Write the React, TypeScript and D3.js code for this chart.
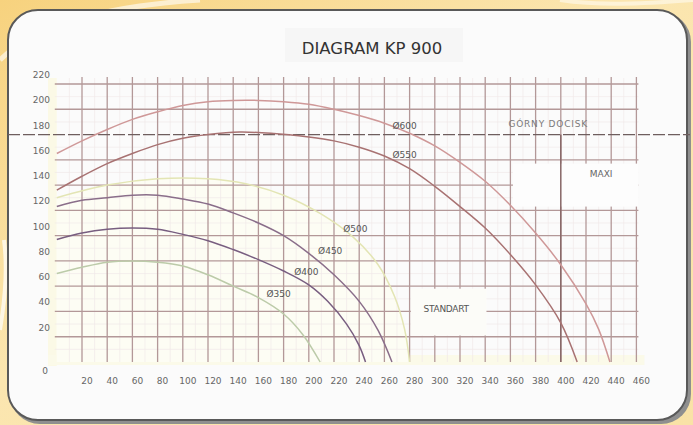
import * as d3 from 'd3';

// pump diagram KP 900: flow Q (m3/h) vs head H
const flowTicks = [20, 40, 60, 80, 100, 120, 140, 160, 180, 200, 220, 240, 260, 280, 300, 320, 340, 360, 380, 400, 420, 440, 460];
const headTicks = [20, 40, 60, 80, 100, 120, 140, 160, 180, 200, 220];

const d350 = [[0, 70], [20, 75], [40, 79], [60, 80], [80, 79], [100, 76], [120, 69], [140, 60], [160, 51], [180, 38], [195, 22], [209, 0]];
const d400 = [[0, 97], [20, 102], [40, 105], [60, 106], [80, 105], [100, 101], [120, 96], [140, 89], [160, 81], [180, 72], [200, 61], [215, 48], [230, 30], [240, 13], [245, 0]];
const d450 = [[0, 123], [20, 128], [40, 130], [60, 132], [80, 132], [100, 129], [120, 125], [140, 118], [160, 110], [180, 100], [200, 86], [220, 69], [240, 48], [255, 25], [266, 0]];
const d500 = [[0, 130], [40, 140], [80, 145], [120, 145], [150, 141], [180, 132], [210, 117], [235, 99], [255, 77], [268, 52], [276, 26], [280, 0]];
const d550 = [[0, 136], [20, 147], [40, 157], [60, 165], [80, 172], [100, 177], [120, 180], [145, 182], [170, 181], [200, 178], [220, 175], [240, 170], [260, 163], [280, 153], [300, 139], [320, 123], [340, 106], [360, 85], [380, 61], [400, 31], [413, 0]];
const d600 = [[0, 165], [20, 175], [40, 184], [60, 192], [80, 198], [100, 203], [120, 206], [140, 207], [160, 207], [180, 206], [200, 204], [220, 200], [240, 195], [260, 189], [280, 181], [300, 171], [320, 158], [340, 143], [360, 124], [380, 102], [400, 77], [420, 46], [430, 26], [439, 0]];

const seriesNames = ['Ø350', 'Ø400', 'Ø450', 'Ø500', 'Ø550', 'Ø600'];
const seriesData = [d350, d400, d450, d500, d550, d600];
// where each curve name sits, in chart units
const seriesLabelAt = [[176, 54], [198, 72], [217, 88], [237, 106], [276, 164], [276, 187]];

const pressLimit = 180; // GÓRNY DOCISK
const splitFlow = 400;
const maxiBox = [362, 123, 460, 157];
const standartBox = [281, 21, 341, 58];

const colors: Record<string, string> = {
  'Ø350': '#bccba9',
  'Ø400': '#785e80',
  'Ø450': '#8a6e8a',
  'Ø500': '#e3e5b4',
  'Ø550': '#a87272',
  'Ø600': '#cf9898',
};

const W = 693;
const H = 425;

export default function App() {
  const x = d3.scaleLinear().domain([0, 460]).range([56.8, 636.4]);
  const y = d3.scaleLinear().domain([0, 220]).range([362, 84]);

  const line = d3.line<number[]>()
    .x(d => x(d[0]))
    .y(d => y(d[1]))
    .curve(d3.curveCatmullRom.alpha(0.5));

  const area = d3.area<number[]>()
    .x(d => x(d[0]))
    .y0(y(0))
    .y1(d => y(d[1]))
    .curve(d3.curveCatmullRom.alpha(0.5));

  const minorX = d3.range(10, 460, 20);
  const minorY = d3.range(10, 220, 20);
  const gridColor = '#b39898';
  const font = '"DejaVu Sans", Verdana, sans-serif';

  return (
    <svg width={W} height={H} style={{ position: 'absolute', left: 0, top: 0 }}>
      <defs>
        <linearGradient id="bg" x1="0" y1="0" x2="1" y2="1">
          <stop offset="0%" stopColor="#f7d27e" />
          <stop offset="45%" stopColor="#fbe6b0" />
          <stop offset="100%" stopColor="#f9e2a6" />
        </linearGradient>
      </defs>
      <rect x={0} y={0} width={W} height={H} fill="url(#bg)" />
      <path d="M0,60 C40,20 120,5 200,0" stroke="#fff" strokeOpacity={0.6} strokeWidth={5} fill="none" />
      <path d="M0,330 C5,300 8,270 4,240" stroke="#fff" strokeOpacity={0.7} strokeWidth={4} fill="none" />
      <path d="M560,0 C600,6 640,4 693,0" stroke="#fff" strokeOpacity={0.5} strokeWidth={4} fill="none" />

      {/* panel */}
      <rect x={10} y={12} width={681} height={412} rx={30} fill="#8f8f8f" />
      <rect x={8} y={10} width={679} height={410} rx={30} fill="#fbfbfb" stroke="#595959" strokeWidth={2} />

      {/* title */}
      <rect x={285} y={28} width={178} height={34} fill="#f6f6f6" />
      <text x={372} y={54} textAnchor="middle" fontFamily={font} fontSize={16.5} fill="#333">DIAGRAM KP 900</text>

      {/* faint tinted strips and standard area */}
      <rect x={48} y={y(220) - 6} width={x(0) - 48} height={y(0) - y(220) + 10} fill="#fbf9e6" />
      <rect x={48} y={y(0) - 7} width={x(460) + 8 - 48} height={10} fill="#fbfae9" />
      <path d={area(d500) ?? ''} fill="#fdfdf4" />

      {/* minor grid */}
      {minorX.map(v => (
        <line key={'mx' + v} x1={x(v)} x2={x(v)} y1={y(220) - 6} y2={y(0)} stroke="#f1eaea" strokeWidth={0.7} />
      ))}
      {minorY.map(v => (
        <line key={'my' + v} x1={x(0) - 2} x2={x(460) + 2} y1={y(v)} y2={y(v)} stroke="#f1eaea" strokeWidth={0.7} />
      ))}

      {/* major grid */}
      {flowTicks.map(v => (
        <line key={'gx' + v} x1={x(v)} x2={x(v)} y1={y(220) - 7} y2={y(0)} stroke={gridColor} strokeWidth={1.3} />
      ))}
      {headTicks.filter(v => v !== pressLimit).map(v => (
        <line key={'gy' + v} x1={x(0) - 2} x2={x(460) + 2} y1={y(v)} y2={y(v)} stroke={gridColor} strokeWidth={1.3} />
      ))}

      {/* MAXI / STANDART boxes */}
      <rect x={x(maxiBox[0])} y={y(maxiBox[3])} width={x(maxiBox[2]) - x(maxiBox[0]) + 2} height={y(maxiBox[1]) - y(maxiBox[3])} fill="#fdfdfd" />
      <rect x={x(standartBox[0])} y={y(standartBox[3])} width={x(standartBox[2]) - x(standartBox[0])} height={y(standartBox[1]) - y(standartBox[3])} fill="#fcfcf8" />

      <line x1={x(splitFlow)} x2={x(splitFlow)} y1={y(pressLimit)} y2={y(0)} stroke="#876666" strokeWidth={1.5} />

      {/* pressure limit */}
      <line x1={8} x2={690} y1={y(pressLimit)} y2={y(pressLimit)} stroke="#6e5e5e" strokeWidth={1.2} strokeDasharray="12 3" />

      {/* curves */}
      {seriesData.map((d, i) => (
        <path key={seriesNames[i]} d={line(d) ?? ''} fill="none" stroke={colors[seriesNames[i]]} strokeWidth={1.5} />
      ))}

      {/* curve labels */}
      {seriesNames.map((n, i) => (
        <text key={'l' + n} x={x(seriesLabelAt[i][0])} y={y(seriesLabelAt[i][1]) + 3.5} textAnchor="middle" fontFamily={font} fontSize={9} fill="#555">{n}</text>
      ))}
      <text x={x(390)} y={y(189) + 3.5} textAnchor="middle" fontFamily={font} fontSize={9} letterSpacing={0.8} fill="#7a7a7a">GÓRNY DOCISK</text>
      <text x={x(432)} y={y(149) + 3.5} textAnchor="middle" fontFamily={font} fontSize={9} fill="#666">MAXI</text>
      <text x={x(309)} y={y(42.7) + 3.5} textAnchor="middle" fontFamily={font} fontSize={9} letterSpacing={-0.3} fill="#555">STANDART</text>

      {/* axis labels */}
      {flowTicks.map(v => (
        <text key={'tx' + v} x={x(v) + 5} y={384} textAnchor="middle" fontFamily={font} fontSize={9} fill="#666">{v}</text>
      ))}
      {headTicks.map(v => (
        <text key={'ty' + v} x={50} y={y(v) - 6} textAnchor="end" fontFamily={font} fontSize={9} fill="#666">{v}</text>
      ))}
      <text x={48} y={y(0) + 12} textAnchor="end" fontFamily={font} fontSize={9} fill="#666">0</text>
    </svg>
  );
}
